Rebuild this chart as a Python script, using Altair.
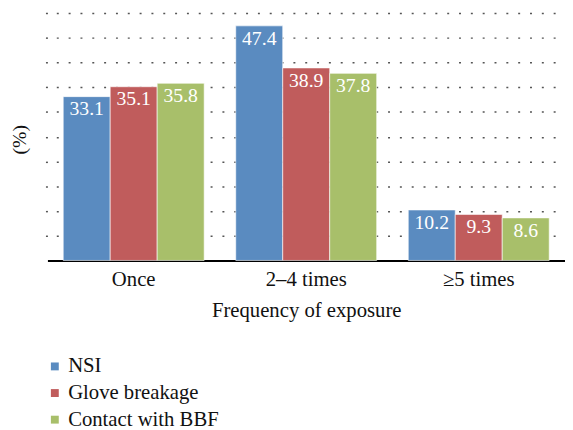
import altair as alt
import pandas as pd

categories = ["Once", "2–4 times", "≥5 times"]
series = ["NSI", "Glove breakage", "Contact with BBF"]
nsi = [33.1, 47.4, 10.2]
glove = [35.1, 38.9, 9.3]
contact = [35.8, 37.8, 8.6]
colors = ["#5A8BC0", "#C05C5C", "#A8BF6A"]
grid_ticks = [5, 10, 15, 20, 25, 30, 35, 40, 45, 50]

rows = []
for s, vals in zip(series, [nsi, glove, contact]):
    for c, v in zip(categories, vals):
        rows.append({"freq": c, "series": s, "value": v})
df = pd.DataFrame(rows)

FONT = "Liberation Serif"
TXT = "#111111"

base = alt.Chart(df).encode(
    x=alt.X(
        "freq:N",
        sort=categories,
        scale=alt.Scale(paddingInner=0.183, paddingOuter=0.0915),
        axis=alt.Axis(
            title="Frequency of exposure",
            labelAngle=0,
            ticks=False,
            tickSize=0,
            labelPadding=25,
            labelBaseline="alphabetic",
            labelFont=FONT,
            labelFontSize=21,
            labelColor=TXT,
            titleY=57,
            titleBaseline="alphabetic",
            titleFont=FONT,
            titleFontSize=21,
            titleFontWeight="normal",
            titleColor=TXT,
            domainColor="black",
            domainWidth=2,
            grid=False,
        ),
    ),
    xOffset=alt.XOffset(
        "series:N", sort=series, scale=alt.Scale(paddingInner=0, paddingOuter=0)
    ),
    y=alt.Y(
        "value:Q",
        scale=alt.Scale(domain=[0, 50], nice=False),
        axis=alt.Axis(
            title="(%)",
            values=grid_ticks,
            labels=False,
            domain=False,
            ticks=True,
            tickSize=4,
            tickDash=[2, 10],
            tickColor="#555555",
            tickWidth=1.5,
            grid=True,
            gridDash=[2, 10],
            gridDashOffset=3,
            gridColor="#555555",
            gridWidth=1.5,
            titleAngle=-90,
            titleX=-28,
            titleY=128,
            titleAlign="center",
            titleBaseline="middle",
            titleFont=FONT,
            titleFontSize=20,
            titleFontWeight="normal",
            titleColor=TXT,
        ),
    ),
)

bars = base.mark_bar(stroke="white", strokeWidth=1, strokeOpacity=0.6).encode(
    color=alt.Color(
        "series:N",
        sort=series,
        scale=alt.Scale(domain=series, range=colors),
        legend=alt.Legend(
            title=None,
            orient="none",
            legendX=-3,
            legendY=348,
            direction="vertical",
            symbolType="square",
            symbolSize=64,
            symbolStrokeWidth=0,
            symbolOpacity=1,
            labelFont=FONT,
            labelFontSize=21,
            labelColor=TXT,
            labelOffset=3,
            rowPadding=5,
            padding=0,
        ),
    )
)

labels = base.mark_text(
    dy=19, baseline="alphabetic", align="center", color="white", font=FONT, fontSize=20
).encode(text=alt.Text("value:Q", format=".1f"))

chart = (
    alt.layer(bars, labels)
    .properties(
        width=525,
        height=251,
        autosize=alt.AutoSizeParams(type="none"),
        padding={"left": 40, "top": 2, "right": 0, "bottom": 174},
        background="white",
    )
    .configure(font=FONT)
    .configure_view(stroke=None)
    .configure_legend(labelFont=FONT)
    .configure_text(font=FONT)
)

chart.save("out.html", embed_options={"renderer": "svg", "actions": False})
